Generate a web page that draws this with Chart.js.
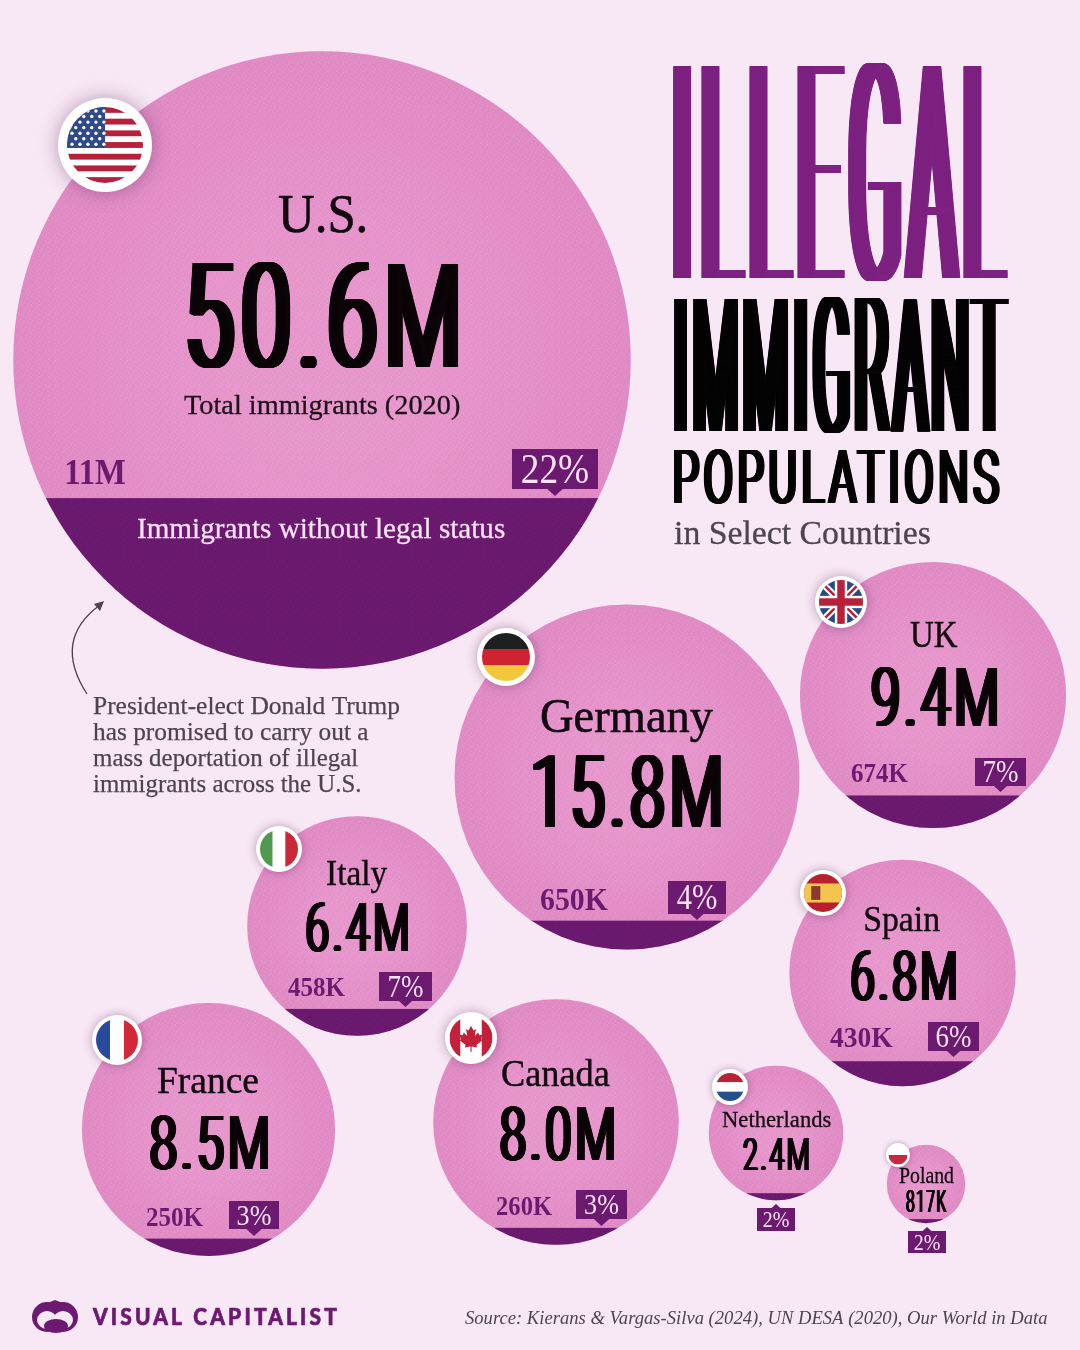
<!DOCTYPE html>
<html><head><meta charset="utf-8"><title>Illegal Immigrant Populations in Select Countries</title>
<style>html,body{margin:0;padding:0;background:#f8e7f5}canvas{display:block}</style>
<script src="https://cdn.jsdelivr.net/npm/chart.js@4/dist/chart.umd.min.js"></script>
</head><body><canvas id="c" width="1080" height="1350"></canvas>
<script>
// ---- data ----
const countries   = ["U.S.","Germany","UK","Italy","Spain","France","Canada","Netherlands","Poland"];
const totalsM     = [50.6,15.8,9.4,6.4,6.8,8.5,8.0,2.4,0.817];
const totalLabels = ["50.6M","15.8M","9.4M","6.4M","6.8M","8.5M","8.0M","2.4M","817K"];
const illegalLabels = ["11M","650K","674K","458K","430K","250K","260K","",""];
const sharePct    = [22,4,7,7,6,3,3,2,2];
const segmentPct  = [22.5,4,7,7,6,3,3,2,2];   // unrounded reading of the dark segment areas
// ---- placement of the packed circles (no data meaning) ----
const placeX = [322,627,933,357,902.5,208.5,556,776,926];
const placeY = [360,777,695,926,973,1129.5,1122,1133,1184];
const RADIUS_PER_SQRT_M = 43.4;

const BG="#f8e7f5",PINK="#e592c9",DARK="#6c1a70",TITLE="#7d2280",GREY="#4e4450",TAGTXT="#f8e2f4",INK="#0b0508";
const SERIF='"Liberation Serif",serif', DISPLAY='Roboto,"Liberation Sans",sans-serif';

const layout=[
 {name:[279,365,232,54],total:[187,458,262,368],ill:[66,125,484,36],tag:[512,598,449,489,496,43],flag:[105,145,47,38]},
 {name:[541,713,732,48],total:[533,721,755,828],ill:[541,608,910,32],tag:[668,726,881,914,920,35],flag:[506,657,29,24]},
 {name:[910,958,647,38],total:[871,997,667,726],ill:[851,908,782,28],tag:[975,1026,758,786,792,31],flag:[841,602,26,22]},
 {name:[327,387,885,36],total:[306,408,904,952],ill:[288,345,996,27],tag:[379,432,972,1001,1007,31],flag:[279,849,23,19]},
 {name:[865,940,931,36],total:[851,956,950,1001],ill:[830,893,1047,29],tag:[928,979,1022,1051,1057,31],flag:[823,893,23,19]},
 {name:[158,258,1093,38],total:[150,268,1115,1170],ill:[147,203,1226,27],tag:[229,279,1201,1229,1236,30],flag:[117,1040,25,21]},
 {name:[502,610,1086,38],total:[500,614,1106,1161],ill:[497,552,1215,27],tag:[576,627,1190,1219,1226,30],flag:[471,1038,26,21.5]},
 {name:[722,831,1127,24],total:[743,809,1137,1170],ill:null,tag:[757,795,1208,1231,1204,23],flag:[730,1087,18,14]},
 {name:[899,954,1183,24],total:[906,947,1189,1212],ill:null,tag:[908,946,1231,1253,1227,23],flag:[898,1155,12,9.5]}
];

// condensed gothic look: a thin face squeezed into a box, spaced, and thickened sideways
function display(ctx,str,weight,x1,x2,y1,y2,col,stemRatio,gapRatio){
  const h=y2-y1,smear=h*stemRatio,gap=h*gapRatio,step=Math.max(.3,Math.min(.35,smear/8));
  ctx.save();ctx.font=`${weight} 200px ${DISPLAY}`;ctx.textAlign="left";ctx.textBaseline="alphabetic";ctx.fillStyle=col;
  let m=ctx.measureText(str);
  const w0=m.actualBoundingBoxRight+m.actualBoundingBoxLeft,hh=m.actualBoundingBoxAscent+m.actualBoundingBoxDescent;
  const n=str.length-1,T=x2-x1-smear,sx=(T-n*gap)/w0,sy=h/hh;
  ctx.letterSpacing=(gap/sx)+"px";
  const ox=x1+m.actualBoundingBoxLeft*sx,oy=y2-m.actualBoundingBoxDescent*sy;
  for(let d=0;d<=smear+.01;d+=step){ctx.setTransform(sx,0,0,sy,ox+d,oy);ctx.fillText(str,0,0);}
  ctx.restore();
}
function fitW(ctx,str,font,x1,x2,base,col,opt){
  opt=opt||{};
  ctx.save();ctx.font=font;ctx.textAlign="left";ctx.textBaseline="alphabetic";ctx.fillStyle=col;
  if(opt.spacing)ctx.letterSpacing=opt.spacing;
  const m=ctx.measureText(str),w=m.actualBoundingBoxRight+m.actualBoundingBoxLeft,sx=(x2-x1)/w;
  ctx.translate(x1+m.actualBoundingBoxLeft*sx,base);ctx.scale(sx,1);
  ctx.fillText(str,0,0);
  if(opt.weight){ctx.strokeStyle=col;ctx.lineWidth=opt.weight;ctx.lineJoin="round";ctx.strokeText(str,0,0);}
  ctx.restore();
}
function chordOffset(r,share){
  let lo=-r,hi=r;
  for(let k=0;k<50;k++){const d=(lo+hi)/2,t=2*Math.acos(d/r),f=(t-Math.sin(t))/(2*Math.PI);
    if(f>share)lo=d;else hi=d;}
  return (lo+hi)/2;
}
function dotPattern(ctx,col){
  const c=document.createElement("canvas");c.width=c.height=9;const g=c.getContext("2d");g.fillStyle=col;
  [[1,1],[5,0],[8,3],[3,4],[6,6],[1,7],[4,8]].forEach(p=>{g.beginPath();g.arc(p[0],p[1],.8,0,7);g.fill();});
  return ctx.createPattern(c,"repeat");
}
const R="#b8213a",W="#ffffff";
const flags={
 "U.S."(c,x,y,r){c.fillStyle=W;c.fillRect(x-r,y-r,2*r,2*r);c.fillStyle="#b5203b";const h=2*r/13;
   for(let i=0;i<13;i+=2)c.fillRect(x-r,y-r+i*h,2*r,h);
   c.fillStyle="#2f4a8a";c.fillRect(x-r,y-r,r*1.0,7*h);c.fillStyle=W;
   for(let j=0;j<7;j++)for(let i=0;i<5;i++){c.beginPath();c.arc(x-r+5+i*r*.21+(j%2?r*.1:0),y-r+4+j*h*.95,1.7,0,7);c.fill();}},
 Germany(c,x,y,r){const h=2*r/3;c.fillStyle="#1f1f1f";c.fillRect(x-r,y-r,2*r,h);c.fillStyle="#cf2331";c.fillRect(x-r,y-r+h,2*r,h);c.fillStyle="#f3c73a";c.fillRect(x-r,y-r+2*h,2*r,h);},
 UK(c,x,y,r){c.fillStyle="#274a82";c.fillRect(x-r,y-r,2*r,2*r);c.lineWidth=r*.3;c.strokeStyle=W;c.beginPath();c.moveTo(x-r,y-r);c.lineTo(x+r,y+r);c.moveTo(x+r,y-r);c.lineTo(x-r,y+r);c.stroke();
   c.lineWidth=r*.12;c.strokeStyle=R;c.stroke();c.fillStyle=W;c.fillRect(x-r*.28,y-r,r*.56,2*r);c.fillRect(x-r,y-r*.28,2*r,r*.56);c.fillStyle=R;c.fillRect(x-r*.17,y-r,r*.34,2*r);c.fillRect(x-r,y-r*.17,2*r,r*.34);},
 Italy(c,x,y,r){const w=2*r/3;c.fillStyle="#4f9a4e";c.fillRect(x-r,y-r,w,2*r);c.fillStyle=W;c.fillRect(x-r+w,y-r,w,2*r);c.fillStyle="#c9283a";c.fillRect(x-r+2*w,y-r,w,2*r);},
 Spain(c,x,y,r){c.fillStyle="#b9202f";c.fillRect(x-r,y-r,2*r,2*r);c.fillStyle="#f2c54f";c.fillRect(x-r,y-r*.5,2*r,r);c.fillStyle="#8c3a2c";c.fillRect(x-r*.62,y-r*.36,r*.48,r*.72);},
 France(c,x,y,r){const w=2*r/3;c.fillStyle="#274a9a";c.fillRect(x-r,y-r,w,2*r);c.fillStyle=W;c.fillRect(x-r+w,y-r,w,2*r);c.fillStyle="#d3283a";c.fillRect(x-r+2*w,y-r,w,2*r);},
 Canada(c,x,y,r){c.fillStyle=W;c.fillRect(x-r,y-r,2*r,2*r);c.fillStyle="#c5203a";c.fillRect(x-r,y-r,r*.5,2*r);c.fillRect(x+r*.5,y-r,r*.5,2*r);
   const s=r*.46,p=[[0,-1.25],[.25,-.75],[.5,-.9],[.38,-.2],[.72,-.55],[.85,-.28],[1.15,-.32],[1.02,.12],[1.15,.22],[.55,.72],[.62,.95],[.06,.87],[.06,1.4],[-.06,1.4],[-.06,.87],[-.62,.95],[-.55,.72],[-1.15,.22],[-1.02,.12],[-1.15,-.32],[-.85,-.28],[-.72,-.55],[-.38,-.2],[-.5,-.9],[-.25,-.75]];
   c.beginPath();p.forEach((q,i)=>{const a=x+q[0]*s,b=y+q[1]*s;i?c.lineTo(a,b):c.moveTo(a,b);});c.closePath();c.fill();},
 Netherlands(c,x,y,r){const h=2*r/3;c.fillStyle="#b5253a";c.fillRect(x-r,y-r,2*r,h);c.fillStyle=W;c.fillRect(x-r,y-r+h,2*r,h);c.fillStyle="#25508f";c.fillRect(x-r,y-r+2*h,2*r,h);},
 Poland(c,x,y,r){c.fillStyle=W;c.fillRect(x-r,y-r,2*r,r);c.fillStyle="#c5283f";c.fillRect(x-r,y,2*r,r);}
};

const overlay={
 id:"overlay",
 afterDatasetsDraw(chart){
  const c=chart.ctx,els=chart.getDatasetMeta(0).data;
  const lightDots=dotPattern(c,"rgba(255,225,245,.14)"),darkDots=dotPattern(c,"rgba(40,0,50,.14)");
  els.forEach((e,i)=>{
   const p=e.getProps(["x","y"]),r=chart.data.datasets[0].data[i].r,off=chordOffset(r,segmentPct[i]/100);
   c.save();c.beginPath();c.arc(p.x,p.y,r,0,Math.PI*2);c.clip();
   const g=c.createRadialGradient(p.x,p.y,r*.3,p.x,p.y,r);g.addColorStop(0,"rgba(235,160,212,.25)");g.addColorStop(1,"rgba(205,105,175,.22)");
   c.fillStyle=g;c.fillRect(p.x-r,p.y-r,2*r,2*r);
   c.fillStyle=lightDots;c.fillRect(p.x-r,p.y-r,2*r,2*r);
   c.fillStyle=DARK;c.fillRect(p.x-r,p.y+off,2*r,r-off+1);
   c.fillStyle=darkDots;c.fillRect(p.x-r,p.y+off,2*r,r-off+1);
   c.restore();
  });
  els.forEach((e,i)=>{
   const L=layout[i];
   fitW(c,countries[i],`${L.name[3]}px ${SERIF}`,L.name[0],L.name[1],L.name[2],"#120a10",{weight:L.name[3]*.012});
   display(c,totalLabels[i],300,L.total[0],L.total[1],L.total[2],L.total[3],INK,.09,.075);
   if(L.ill)fitW(c,illegalLabels[i],`bold ${L.ill[3]}px ${SERIF}`,L.ill[0],L.ill[1],L.ill[2],DARK);
   const T=L.tag,mid=(T[0]+T[1])/2,below=T[4]>T[3];
   c.fillStyle=DARK;c.fillRect(T[0],T[2],T[1]-T[0],T[3]-T[2]);
   c.beginPath();const b=below?T[3]:T[2],hw=Math.abs(T[4]-b)*1.1;c.moveTo(mid-hw,b);c.lineTo(mid,T[4]);c.lineTo(mid+hw,b);c.closePath();c.fill();
   const txt=sharePct[i]+"%";
   c.save();c.font=`${T[5]}px ${SERIF}`;c.textAlign="center";c.textBaseline="alphabetic";c.fillStyle=TAGTXT;
   c.translate(mid,(T[2]+T[3])/2+T[5]*.33);c.scale(.87,1);c.fillText(txt,0,0);c.restore();
   const F=L.flag;
   c.save();c.shadowColor="rgba(70,30,70,.38)";c.shadowBlur=F[2]*.4;c.fillStyle="#fff";c.beginPath();c.arc(F[0],F[1],F[2],0,7);c.fill();c.restore();
   c.save();c.beginPath();c.arc(F[0],F[1],F[3],0,7);c.clip();flags[countries[i]](c,F[0],F[1],F[3]);c.restore();
  });
  fitW(c,"Total immigrants (2020)",`28px ${SERIF}`,184,460,414,"#1d1219",{weight:.3});
  fitW(c,"Immigrants without legal status",`29px ${SERIF}`,138,505,538,TAGTXT,{weight:.3});
  display(c,"ILLEGAL",100,673,1008,62,281,TITLE,.075,.05);
  display(c,"IMMIGRANT",100,674,1009,296,433,"#050505",.085,.05);
  display(c,"POPULATIONS",300,674,1000,449,504,"#050505",.1,.09);
  fitW(c,"in Select Countries",`33px ${SERIF}`,674,930,544,GREY,{weight:.3});
  ["President-elect Donald Trump","has promised to carry out a","mass deportation of illegal","immigrants across the U.S."].forEach((s,k)=>{
    fitW(c,s,`26px ${SERIF}`,93,[399,369,358,360][k],[714,740,766,792][k],GREY,{weight:.25});
  });
  c.strokeStyle=GREY;c.lineWidth=1.3;c.beginPath();c.moveTo(87,694);c.quadraticCurveTo(52,640,100,605);c.stroke();
  c.fillStyle=GREY;c.beginPath();c.moveTo(104,601);c.lineTo(94,604);c.lineTo(100,611);c.closePath();c.fill();
  c.fillStyle=DARK;c.beginPath();c.arc(47,1317,15,0,7);c.arc(63,1317,15,0,7);c.fill();
  c.beginPath();c.moveTo(40,1306);c.lineTo(55,1300);c.lineTo(70,1306);c.fill();
  c.fillStyle=BG;c.beginPath();c.ellipse(47,1320,10,9,0,0,7);c.ellipse(63,1320,10,9,0,0,7);c.fill();
  c.fillStyle=DARK;c.beginPath();c.ellipse(56,1326,12,7,0,0,7);c.fill();
  fitW(c,"VISUAL CAPITALIST",`900 23px Lato`,92,337,1325,DARK,{spacing:"3.5px",weight:.7});
  fitW(c,"Source: Kierans & Vargas-Silva (2024), UN DESA (2020), Our World in Data",`italic 19px ${SERIF}`,465,1047,1324,GREY);
 }
};

new Chart(document.getElementById("c"),{
 type:"bubble",
 data:{datasets:[{
   label:"Total immigrants",
   data:countries.map((_,i)=>({x:placeX[i],y:placeY[i],r:RADIUS_PER_SQRT_M*Math.sqrt(totalsM[i])})),
   backgroundColor:PINK,borderWidth:0,hoverBorderWidth:0,clip:false
 }]},
 options:{responsive:false,animation:false,events:[],
  layout:{autoPadding:false,padding:0},
  plugins:{legend:{display:false},tooltip:{enabled:false},title:{display:false}},
  scales:{x:{type:"linear",min:0,max:1080,display:false},y:{type:"linear",min:0,max:1350,reverse:true,display:false}}
 },
 plugins:[overlay]
});
</script></body></html>
